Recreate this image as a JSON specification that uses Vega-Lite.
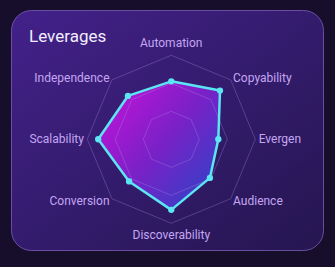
{
  "$schema": "https://vega.github.io/schema/vega-lite/v6.json",
  "width": 312,
  "height": 240,
  "autosize": {"type": "none"},
  "padding": {"left": 11, "top": 10, "right": 12, "bottom": 17},
  "background": "#160e2a",
  "title": {
    "text": "Leverages",
    "anchor": "start",
    "frame": "group",
    "orient": "top",
    "offset": -49,
    "dx": 18,
    "baseline": "alphabetic",
    "fontSize": 17,
    "font": "Roboto",
    "fontWeight": "normal",
    "color": "#f2ecff"
  },
  "config": {
    "view": {
      "cornerRadius": 20,
      "stroke": "#7a5cb8",
      "strokeWidth": 1,
      "strokeOpacity": 0.8,
      "fill": {
        "gradient": "linear",
        "x1": 0, "y1": 0, "x2": 1, "y2": 1,
        "stops": [
          {"offset": 0, "color": "#43218a"},
          {"offset": 1, "color": "#251650"}
        ]
      }
    }
  },
  "datasets": {
    "leverages": [
      {"i": 0, "axis": "Automation", "value": 69},
      {"i": 1, "axis": "Copyability", "value": 82},
      {"i": 2, "axis": "Evergen", "value": 56},
      {"i": 3, "axis": "Audience", "value": 65},
      {"i": 4, "axis": "Discoverability", "value": 84},
      {"i": 5, "axis": "Conversion", "value": 71},
      {"i": 6, "axis": "Scalability", "value": 87},
      {"i": 7, "axis": "Independence", "value": 73}
    ],
    "grid": [
      {"ring": 33.3, "i": 0}, {"ring": 33.3, "i": 1}, {"ring": 33.3, "i": 2}, {"ring": 33.3, "i": 3},
      {"ring": 33.3, "i": 4}, {"ring": 33.3, "i": 5}, {"ring": 33.3, "i": 6}, {"ring": 33.3, "i": 7},
      {"ring": 66.7, "i": 0}, {"ring": 66.7, "i": 1}, {"ring": 66.7, "i": 2}, {"ring": 66.7, "i": 3},
      {"ring": 66.7, "i": 4}, {"ring": 66.7, "i": 5}, {"ring": 66.7, "i": 6}, {"ring": 66.7, "i": 7},
      {"ring": 100, "i": 0}, {"ring": 100, "i": 1}, {"ring": 100, "i": 2}, {"ring": 100, "i": 3},
      {"ring": 100, "i": 4}, {"ring": 100, "i": 5}, {"ring": 100, "i": 6}, {"ring": 100, "i": 7}
    ]
  },
  "layer": [
    {
      "data": {"name": "leverages"},
      "transform": [
        {"calculate": "datum.value * sin(datum.i * PI / 4)", "as": "x"},
        {"calculate": "datum.value * cos(datum.i * PI / 4)", "as": "y"}
      ],
      "mark": {
        "type": "line",
        "interpolate": "linear-closed",
        "fill": {
          "gradient": "linear",
          "x1": 0, "y1": 0.15, "x2": 0.95, "y2": 1,
          "stops": [
            {"offset": 0, "color": "#c812dc"},
            {"offset": 0.5, "color": "#7a22cc"},
            {"offset": 1, "color": "#2a48cc"}
          ]
        },
        "fillOpacity": 0.95,
        "strokeOpacity": 0
      },
      "encoding": {
        "x": {"field": "x", "type": "quantitative", "scale": {"domain": [-190.8, 180.6], "zero": false, "nice": false}, "axis": null},
        "y": {"field": "y", "type": "quantitative", "scale": {"domain": [-131.8, 153.9], "zero": false, "nice": false}, "axis": null},
        "order": {"field": "i", "type": "quantitative"}
      }
    },
    {
      "data": {"name": "grid"},
      "transform": [
        {"calculate": "datum.ring * sin(datum.i * PI / 4)", "as": "x"},
        {"calculate": "datum.ring * cos(datum.i * PI / 4)", "as": "y"}
      ],
      "mark": {"type": "line", "interpolate": "linear-closed", "stroke": "#b496e4", "strokeOpacity": 0.3, "strokeWidth": 1},
      "encoding": {
        "x": {"field": "x", "type": "quantitative"},
        "y": {"field": "y", "type": "quantitative"},
        "detail": {"field": "ring", "type": "nominal"},
        "order": {"field": "i", "type": "quantitative"}
      }
    },
    {
      "data": {"name": "leverages"},
      "transform": [
        {"calculate": "datum.value * sin(datum.i * PI / 4)", "as": "x"},
        {"calculate": "datum.value * cos(datum.i * PI / 4)", "as": "y"}
      ],
      "mark": {
        "type": "line",
        "interpolate": "linear-closed",
        "stroke": "#5ce6f4",
        "strokeWidth": 2.5,
        "strokeJoin": "round"
      },
      "encoding": {
        "x": {"field": "x", "type": "quantitative"},
        "y": {"field": "y", "type": "quantitative"},
        "order": {"field": "i", "type": "quantitative"}
      }
    },
    {
      "data": {"name": "leverages"},
      "transform": [
        {"calculate": "datum.value * sin(datum.i * PI / 4)", "as": "x"},
        {"calculate": "datum.value * cos(datum.i * PI / 4)", "as": "y"}
      ],
      "mark": {"type": "point", "filled": true, "size": 40, "color": "#5ce6f4", "opacity": 1},
      "encoding": {
        "x": {"field": "x", "type": "quantitative"},
        "y": {"field": "y", "type": "quantitative"}
      }
    },
    {
      "data": {"name": "leverages"},
      "transform": [
        {"filter": "datum.i == 0 || datum.i == 4"},
        {"calculate": "114.5 * sin(datum.i * PI / 4)", "as": "x"},
        {"calculate": "114.5 * cos(datum.i * PI / 4)", "as": "y"}
      ],
      "mark": {"type": "text", "align": "center", "baseline": "middle", "font": "Roboto", "fontSize": 12, "color": "#c4a6f2"},
      "encoding": {
        "x": {"field": "x", "type": "quantitative"},
        "y": {"field": "y", "type": "quantitative"},
        "text": {"field": "axis"}
      }
    },
    {
      "data": {"name": "leverages"},
      "transform": [
        {"filter": "datum.i >= 1 && datum.i <= 3"},
        {"calculate": "104 * sin(datum.i * PI / 4)", "as": "x"},
        {"calculate": "104 * cos(datum.i * PI / 4)", "as": "y"}
      ],
      "mark": {"type": "text", "align": "left", "baseline": "middle", "font": "Roboto", "fontSize": 12, "color": "#c4a6f2"},
      "encoding": {
        "x": {"field": "x", "type": "quantitative"},
        "y": {"field": "y", "type": "quantitative"},
        "text": {"field": "axis"}
      }
    },
    {
      "data": {"name": "leverages"},
      "transform": [
        {"filter": "datum.i >= 5"},
        {"calculate": "104 * sin(datum.i * PI / 4)", "as": "x"},
        {"calculate": "104 * cos(datum.i * PI / 4)", "as": "y"}
      ],
      "mark": {"type": "text", "align": "right", "baseline": "middle", "font": "Roboto", "fontSize": 12, "color": "#c4a6f2"},
      "encoding": {
        "x": {"field": "x", "type": "quantitative"},
        "y": {"field": "y", "type": "quantitative"},
        "text": {"field": "axis"}
      }
    }
  ]
}
